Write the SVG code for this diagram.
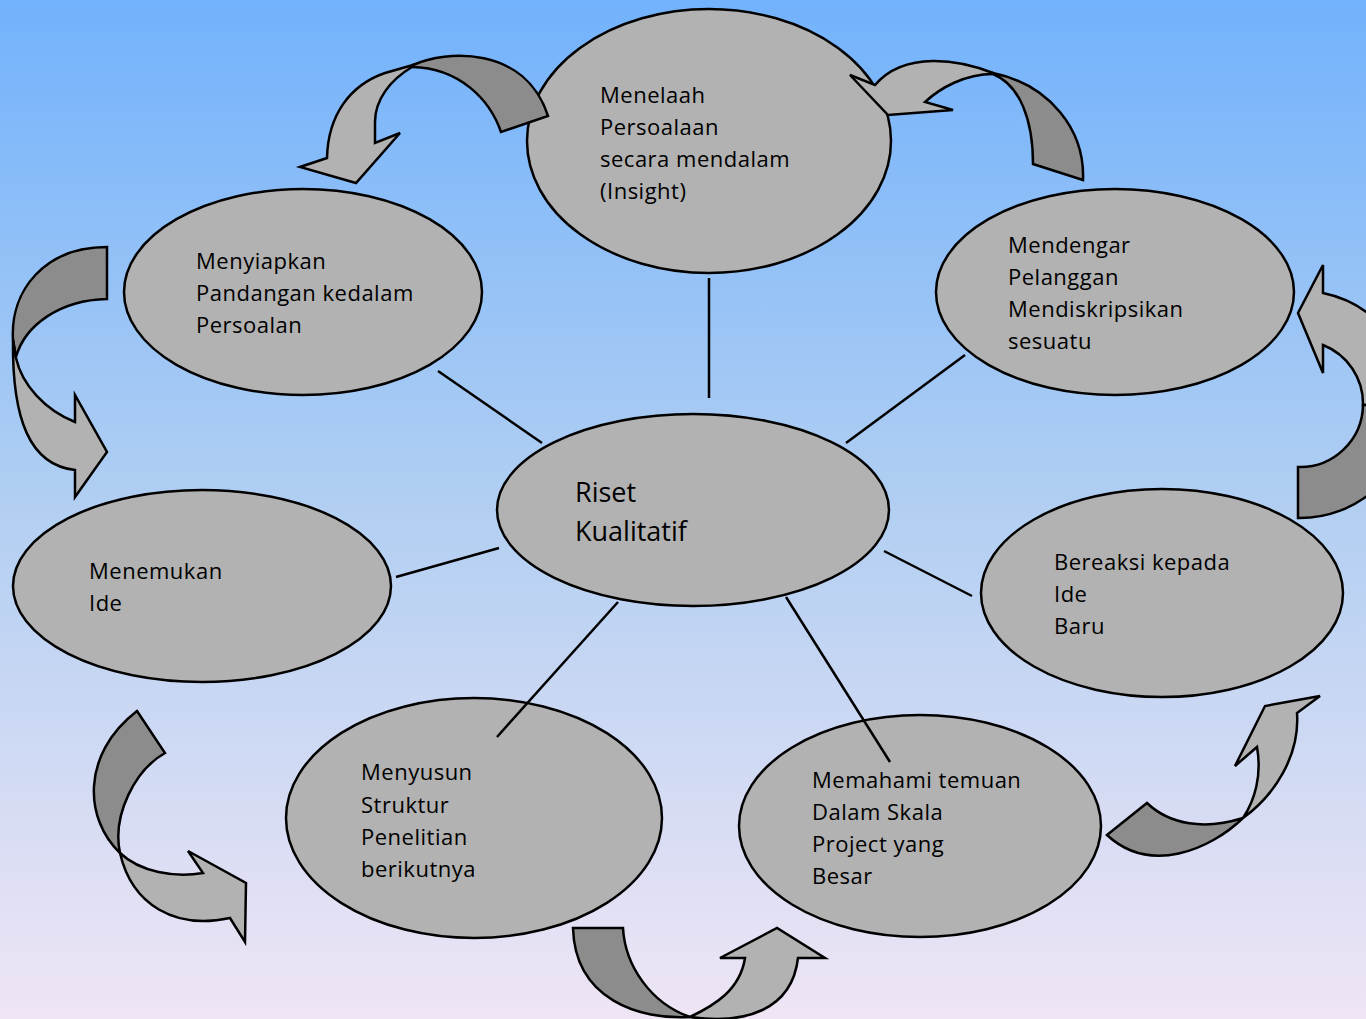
<svg xmlns="http://www.w3.org/2000/svg" width="1366" height="1019" viewBox="0 0 1366 1019">
<defs>
<linearGradient id="bg" x1="0" y1="0" x2="0" y2="1">
<stop offset="0" stop-color="#72b2fc"/>
<stop offset="0.5" stop-color="#b2cff2"/>
<stop offset="1" stop-color="#efe5f5"/>
</linearGradient>
<style>
.node{fill:#b2b2b2;stroke:#000;stroke-width:2.5}
.lt{fill:#b2b2b2;stroke:#000;stroke-width:2.5;stroke-linejoin:miter}
.dk{fill:#8c8c8c;stroke:#000;stroke-width:2.5;stroke-linejoin:miter}
.ln{stroke:#000;stroke-width:2.5;fill:none}
text{font-family:"Open Sans","Liberation Sans",sans-serif;font-size:22px;letter-spacing:0.5px;fill:#000}
.big{font-size:27px;letter-spacing:0}
</style>
</defs>
<rect width="1366" height="1019" fill="url(#bg)"/>
<g id="node-menelaah">
<ellipse class="node" cx="709" cy="141" rx="182" ry="132"/>
<text x="600" y="103">Menelaah</text>
<text x="600" y="135">Persoalaan</text>
<text x="600" y="167">secara mendalam</text>
<text x="600" y="199">(Insight)</text>
</g>
<g id="node-menyiapkan">
<ellipse class="node" cx="303" cy="292" rx="179" ry="103"/>
<text x="196" y="269">Menyiapkan</text>
<text x="196" y="301">Pandangan kedalam</text>
<text x="196" y="333">Persoalan</text>
</g>
<g id="node-mendengar">
<ellipse class="node" cx="1115" cy="292" rx="179" ry="103"/>
<text x="1008" y="253">Mendengar</text>
<text x="1008" y="285">Pelanggan</text>
<text x="1008" y="317">Mendiskripsikan</text>
<text x="1008" y="349">sesuatu</text>
</g>
<g id="node-riset">
<ellipse class="node" cx="693" cy="510" rx="196" ry="96"/>
<text class="big" x="575" y="502">Riset</text>
<text class="big" x="575" y="541">Kualitatif</text>
</g>
<g id="node-menemukan">
<ellipse class="node" cx="202" cy="586" rx="189" ry="96"/>
<text x="89" y="579">Menemukan</text>
<text x="89" y="611">Ide</text>
</g>
<g id="node-bereaksi">
<ellipse class="node" cx="1162" cy="593" rx="181" ry="104"/>
<text x="1054" y="570">Bereaksi kepada</text>
<text x="1054" y="602">Ide</text>
<text x="1054" y="634">Baru</text>
</g>
<g id="node-menyusun">
<ellipse class="node" cx="474" cy="818" rx="188" ry="120"/>
<text x="361" y="780">Menyusun</text>
<text x="361" y="813">Struktur</text>
<text x="361" y="845">Penelitian</text>
<text x="361" y="877">berikutnya</text>
</g>
<g id="node-memahami">
<ellipse class="node" cx="920" cy="826" rx="181" ry="111"/>
<text x="812" y="788">Memahami temuan</text>
<text x="812" y="820">Dalam Skala</text>
<text x="812" y="852">Project yang</text>
<text x="812" y="884">Besar</text>
</g>
<g id="connectors">
<line class="ln" x1="709" y1="278" x2="709" y2="398"/>
<line class="ln" x1="438" y1="371" x2="542" y2="443"/>
<line class="ln" x1="965" y1="355" x2="846" y2="443"/>
<line class="ln" x1="396" y1="577" x2="499" y2="548"/>
<line class="ln" x1="884" y1="551" x2="972" y2="596"/>
<line class="ln" x1="618" y1="602" x2="497" y2="737"/>
<line class="ln" x1="786" y1="597" x2="890" y2="762"/>
</g>
<g id="arrow-top-left">
<path class="dk" d="M413 65 C445 50 525 45 548 116 L501 132 C490 100 460 68 412 67 Z"/>
<path class="lt" d="M413 65 L385 73 C350 85 328 115 327 158 L300 167 L356 183 L400 133 L375 143 L375 122 C375 100 390 80 412 67 Z"/>
</g>
<g id="arrow-top-right">
<path class="lt" d="M993 73 C960 60 905 50 875 85 L850 75 L888 115 L953 110 L925 102 C940 88 965 74 993 74 Z"/>
<path class="dk" d="M993 73 C1050 85 1085 130 1083 180 L1033 164 C1033 120 1020 85 993 74 Z"/>
</g>
<g id="arrow-left">
<path class="dk" d="M107 247 L107 299 C60 300 25 325 16 357 L13 340 C10 290 45 247 107 247 Z"/>
<path class="lt" d="M13 340 C12 420 30 465 75 470 L75 497 L107 452 L75 395 L75 422 C45 410 22 385 16 358 Z"/>
</g>
<g id="arrow-right">
<path class="lt" d="M1298 313 L1323 265 L1323 293 A113 113 0 0 1 1413 405 L1363 405 A63 63 0 0 0 1323 345 L1323 373 Z"/>
<path class="dk" d="M1413 405 A113 113 0 0 1 1298 518 L1298 467 A63 63 0 0 0 1363 405 Z"/>
</g>
<g id="arrow-bottom-left">
<path class="dk" d="M137 711 L165 753 C135 770 112 815 120 853 C85 820 80 755 137 711 Z"/>
<path class="lt" d="M120 853 C132 905 175 930 230 918 L245 942 L246 883 L188 851 L203 873 C175 878 140 872 120 853 Z"/>
</g>
<g id="arrow-bottom-middle">
<path class="dk" d="M573 928 L623 928 C625 965 650 1003 690 1017 C640 1020 575 1000 573 928 Z"/>
<path class="lt" d="M690 1017 C745 1025 792 1010 798 958 L825 958 L777 928 L720 958 L745 958 C740 990 715 1005 690 1017 Z"/>
</g>
<g id="arrow-bottom-right">
<path class="dk" d="M1107 835 L1147 803 C1170 825 1205 830 1243 818 C1210 850 1150 875 1107 835 Z"/>
<path class="lt" d="M1243 818 C1275 795 1300 755 1297 713 L1320 696 L1265 706 L1235 766 L1257 747 C1262 775 1255 800 1243 818 Z"/>
</g>
</svg>
